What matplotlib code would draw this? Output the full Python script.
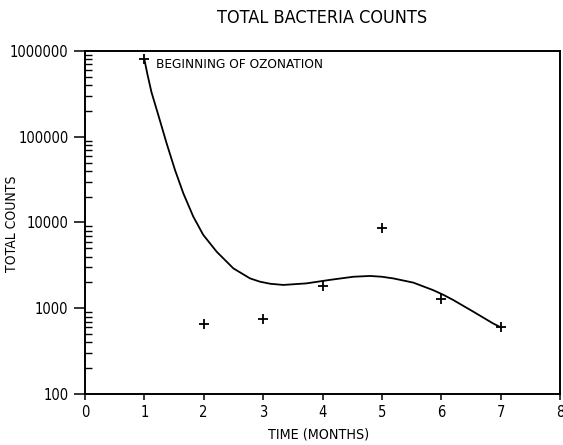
import numpy as np
import matplotlib
matplotlib.use("Agg")
import matplotlib.pyplot as plt
from matplotlib.ticker import LogLocator, NullFormatter, FuncFormatter

# measured data
months = [1, 2, 3, 4, 5, 6, 7]
counts = [800000, 650, 755, 1815, 8550, 1270, 600]

# fitted curve (month, count)
fit_months = [1.0, 1.05, 1.12, 1.24, 1.376, 1.516, 1.656, 1.824, 1.992, 2.218,
              2.498, 2.779, 2.947, 3.12, 3.34, 3.73, 4.12, 4.52, 4.80, 5.0,
              5.19, 5.53, 5.86, 6.03, 6.20, 6.54, 6.87, 7.0]
fit_counts = [800000, 540000, 330000, 174000, 83200, 40900, 21900, 11700, 7160, 4560,
              2920, 2230, 2040, 1930, 1870, 1950, 2140, 2330, 2380, 2330,
              2230, 1990, 1630, 1440, 1250, 912, 667, 600]

xticks = [0, 1, 2, 3, 4, 5, 6, 7, 8]

plt.rcParams['font.family'] = ['DejaVu Sans']
plt.rcParams['font.stretch'] = 'condensed'

fig = plt.figure(figsize=(5.63, 4.45), dpi=100)
ax = fig.add_axes([85/563, 1-394/445, (560-85)/563, (394-51)/445])
ax.set_yscale('log')
ax.set_xlim(0, 8)
ax.set_ylim(100, 1000000)

ax.plot(fit_months, fit_counts, color='black', lw=1.3, solid_joinstyle='round')
ax.plot(months, counts, ls='none', marker='+', ms=7, mew=1.3, color='black')
ax.text(1.19, 690000, 'BEGINNING OF OZONATION', fontsize=9.7, va='center', stretch='condensed')

fig.text(322/563, 1-18/445, 'TOTAL BACTERIA COUNTS', ha='center', va='center', fontsize=13, stretch='condensed')
fig.text(319/563, 1-435/445, 'TIME (MONTHS)', ha='center', va='center', fontsize=10.3, stretch='condensed')
fig.text(12/563, 1-224/445, 'TOTAL COUNTS', ha='center', va='center', fontsize=10, rotation=90, stretch='condensed')

ax.set_xticks(xticks)
ax.tick_params(axis='both', which='major', direction='out', length=8, width=1.1, labelsize=10.5, pad=4)
ax.tick_params(axis='x', which='major', length=4)
ax.tick_params(axis='y', which='minor', direction='in', length=5, width=1)
ax.yaxis.set_major_locator(LogLocator(base=10, numticks=10))
ax.yaxis.set_major_formatter(FuncFormatter(lambda v, p: f'{int(round(v))}'))
ax.yaxis.set_minor_locator(LogLocator(base=10, subs=np.arange(2, 10), numticks=10))
ax.yaxis.set_minor_formatter(NullFormatter())
for lab in ax.get_xticklabels() + ax.get_yticklabels():
    lab.set_fontstretch('condensed')
for s in ax.spines.values():
    s.set_linewidth(1.4)
fig.savefig('out.png', dpi=100)
